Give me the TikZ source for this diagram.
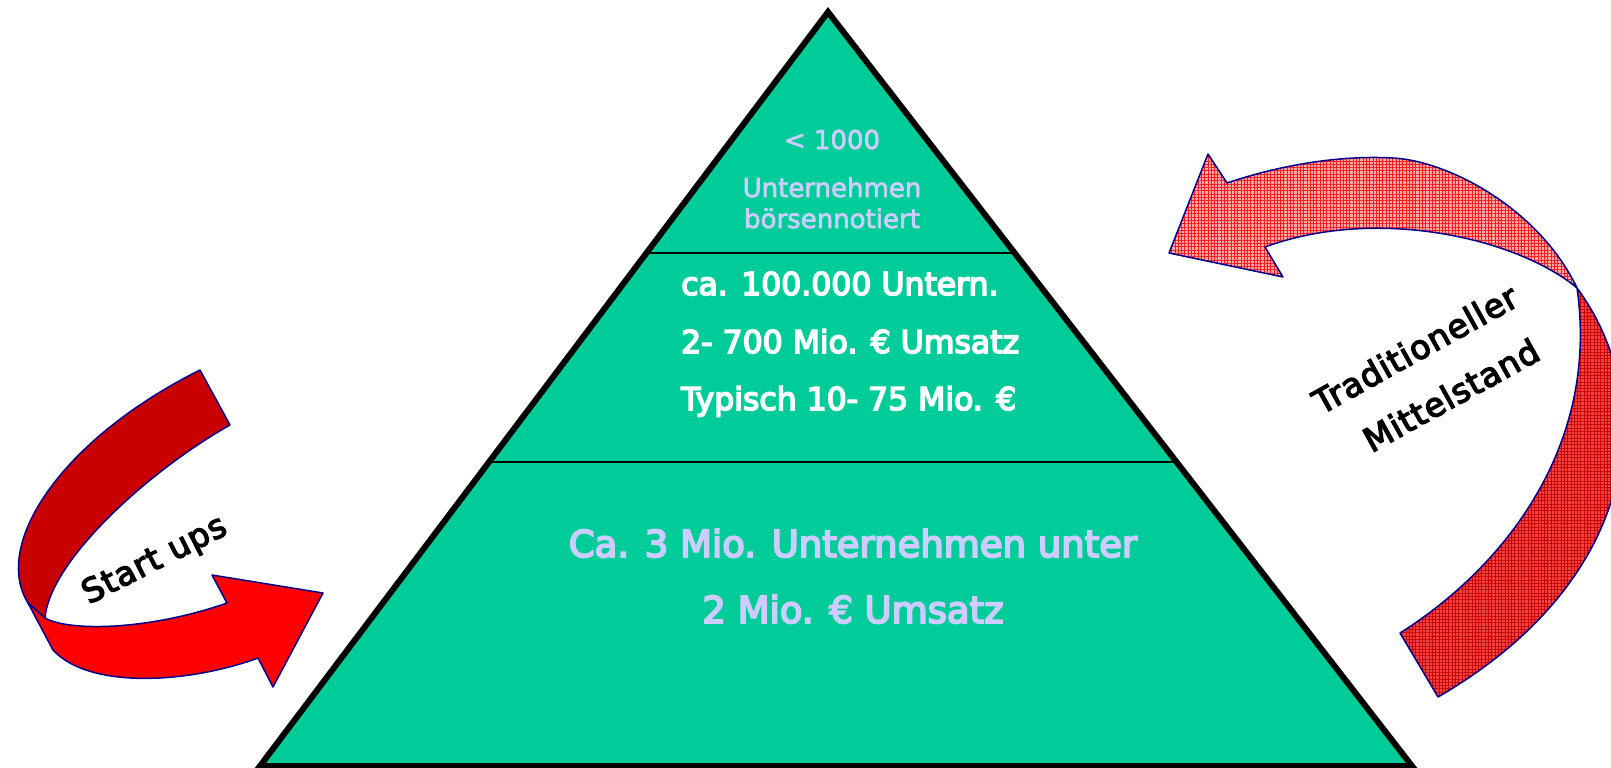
\documentclass[tikz,border=0pt]{standalone}
\usepackage{fontspec}
\setmainfont{DejaVu Sans}
\newfontfamily\labelfont[LetterSpace=3,FakeBold=4]{DejaVu Sans}
\newfontfamily\heavyfont[FakeBold=5]{DejaVu Sans}
\newfontfamily\semifont[FakeBold=2.5]{DejaVu Sans}
\usetikzlibrary{calc,patterns.meta}
\definecolor{pyrgreen}{RGB}{0,204,153}
\definecolor{lav}{RGB}{204,204,255}
\definecolor{darkred}{RGB}{200,0,0}
\definecolor{navyline}{RGB}{0,0,140}
\definecolor{pinkfill}{RGB}{255,170,170}
\definecolor{frontgrid}{RGB}{245,30,30}
\definecolor{backfill}{RGB}{238,70,70}
\definecolor{backgrid}{RGB}{205,0,0}
\tikzset{
  pyrfill/.style={fill=pyrgreen},
  pyrborder/.style={draw=black, line width=6pt, line join=miter},
  divider/.style={draw=black, line width=1.8pt},
  toptext/.style={text=lav, font=\semifont\fontsize{26}{30}\selectfont, inner sep=0pt, anchor=base},
  midtext/.style={text=white, font=\heavyfont\fontsize{31.5}{36}\selectfont, inner sep=0pt, anchor=base west},
  bottext/.style={text=lav, font=\heavyfont\fontsize{37}{44}\selectfont, inner sep=0pt, anchor=base},
  arrowlabel/.style={text=black, font=\labelfont\fontsize{33}{38}\selectfont, inner sep=0pt},
  arrback/.style={fill=darkred, draw=navyline, line width=1.5pt, line join=round},
  arrfront/.style={fill=red, draw=navyline, line width=1.5pt, line join=round},
  hatchfront/.style={preaction={fill=pinkfill},
     preaction={pattern={Lines[angle=0,distance=3.3pt,line width=0.55pt]}, pattern color=frontgrid},
     pattern={Lines[angle=90,distance=3.3pt,line width=0.55pt]}, pattern color=frontgrid,
     draw=navyline, line width=1.5pt, line join=round},
  hatchback/.style={preaction={fill=backfill},
     preaction={pattern={Lines[angle=0,distance=3.3pt,line width=0.6pt]}, pattern color=backgrid},
     pattern={Lines[angle=90,distance=3.3pt,line width=0.6pt]}, pattern color=backgrid,
     draw=navyline, line width=1.5pt, line join=round}
}
\begin{document}
\begin{tikzpicture}[x=1pt,y=-1pt]
\useasboundingbox (0,0) rectangle (1611,768);
\clip (0,0) rectangle (1611,768);
\fill[white] (0,0) rectangle (1611,768);

% Pyramid
\coordinate (apex) at (828,12);
\coordinate (bl) at (260,766);
\coordinate (br) at (1412,766);
\fill[pyrfill] (apex) -- (bl) -- (br) -- cycle;
\coordinate (l1) at ($(apex)!0.3196!(bl)$);
\coordinate (r1) at ($(apex)!0.3196!(br)$);
\coordinate (l2) at ($(apex)!0.5968!(bl)$);
\coordinate (r2) at ($(apex)!0.5968!(br)$);
\draw[divider] (l1) -- (r1);
\draw[divider] (l2) -- (r2);
\draw[pyrborder] (apex) -- (bl) -- (br) -- cycle;

% Pyramid texts
\node[toptext] (t1) at (832,149) {< 1000};
\node[toptext] (t2) at (832,197) {Unternehmen};
\node[toptext] (t3) at (832,228) {börsennotiert};
\node[midtext] (m1) at (681,295) {ca. 100.000 Untern.};
\node[midtext] (m2) at (681,353) {2- 700 Mio. € Umsatz};
\node[midtext] (m3) at (681,410) {Typisch 10- 75 Mio. €};
\node[bottext] (b1) at (853,557) {Ca. 3 Mio. Unternehmen unter};
\node[bottext] (b2) at (853,623) {2 Mio. € Umsatz};

% Left arrow (Start ups)
\draw[arrback] (200,370) -- (230,425)
  .. controls (150,470) and (50,560) .. (45,618)
  -- (28,603)
  .. controls (-8,545) and (60,440) .. (200,370) -- cycle;
\draw[arrfront] (28,603) -- (45,618)
  .. controls (70,632) and (150,630) .. (227,603)
  -- (212,575) -- (323,593) -- (273,687) -- (258,658)
  .. controls (190,683) and (90,690) .. (53,650)
  -- cycle;
\node[arrowlabel, rotate=27] (su) at (155,561) {Start ups};

% Right arrow (Traditioneller Mittelstand)
\coordinate (cross) at (1577,288);
\path[hatchback] (cross)
  .. controls (1660,400) and (1640,580) .. (1438,697)
  -- (1400,633)
  .. controls (1500,570) and (1600,450) .. (cross) -- cycle;
\path[hatchfront] (1265,247) -- (1283,277) -- (1169,253) -- (1208,154) -- (1227,183)
  .. controls (1280,165) and (1340,155) .. (1393,158)
  .. controls (1450,161) and (1540,210) .. (cross)
  .. controls (1520,240) and (1380,205) .. (1265,247) -- cycle;
\node[arrowlabel, rotate=29] (tr) at (1415,349) {Traditioneller};
\node[arrowlabel, rotate=29] (mi) at (1451,395) {Mittelstand};
\end{tikzpicture}
\end{document}
